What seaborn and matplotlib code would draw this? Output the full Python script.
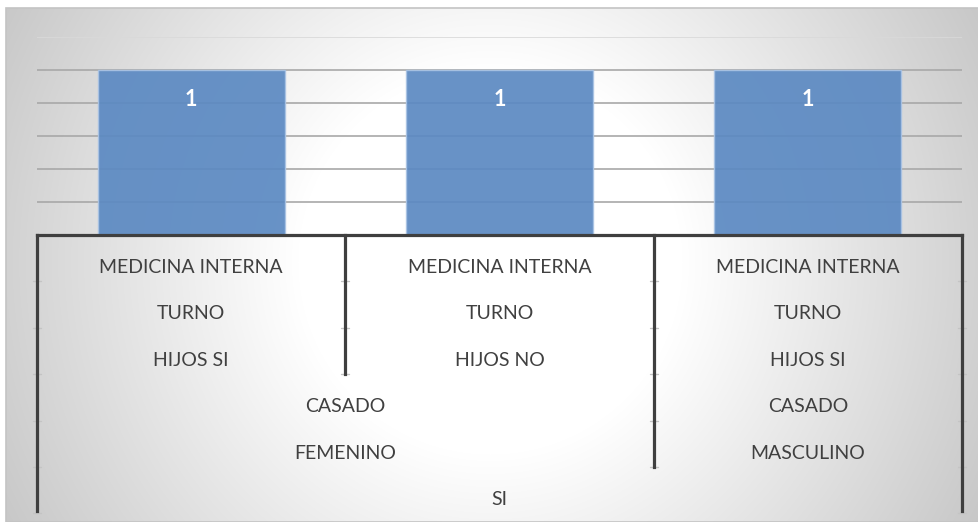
import numpy as np
import pandas as pd
import matplotlib
matplotlib.use("Agg")
import matplotlib.pyplot as plt
from matplotlib.patches import Rectangle
import seaborn as sns

# Category levels, innermost (closest to the bars) first
servicio = ["MEDICINA INTERNA", "MEDICINA INTERNA", "MEDICINA INTERNA"]
turno = ["TURNO", "TURNO", "TURNO"]
hijos = ["HIJOS SI", "HIJOS NO", "HIJOS SI"]
estado_civil = ["CASADO", "CASADO", "CASADO"]
sexo = ["FEMENINO", "FEMENINO", "MASCULINO"]
grupo = ["SI", "SI", "SI"]
cuenta = [1, 1, 1]

levels = [servicio, turno, hijos, estado_civil, sexo, grupo]
n = len(cuenta)
keys = [" | ".join(lv[i] for lv in reversed(levels)) for i in range(n)]
df = pd.DataFrame({"clave": keys, "cuenta": cuenta})

sns.set_style("white")
plt.rcParams["font.family"] = ["Lato", "DejaVu Sans"]

W, H = 979, 522
fig = plt.figure(figsize=(W / 100, H / 100), dpi=100)
fig.patch.set_facecolor("white")

def fx(px):
    return px / W

def fy(py):
    return 1 - py / H

# Chart area with a radial grey-to-white fill
left, top, right, bottom = 6, 8, 979, 522
bg = fig.add_axes([fx(left), fy(bottom), fx(right - left), fy(top) - fy(bottom)])
yy, xx = np.mgrid[0:bottom - top, 0:right - left]
cx, cy = 490 - left, 262 - top
d = np.hypot(xx - cx, yy - cy)
shade = np.clip(255 - 0.154 * np.clip(d - 192, 0, None), 0, 255) / 255
bg.imshow(np.dstack([shade] * 3), aspect="auto", interpolation="bilinear")
bg.set_axis_off()
bg.add_patch(Rectangle((0, 0), 1, 1, transform=bg.transAxes, fill=False,
                       edgecolor="#c4c4c4", linewidth=1.2, clip_on=False))

# Plot area
pl, pr, pt, pb = 37, 962, 37, 235
ax = fig.add_axes([fx(pl), fy(pb), fx(pr - pl), fy(pt) - fy(pb)])
ax.set_facecolor("none")
ax.set_ylim(0, 1.2)

grid_vals = [0.2, 0.4, 0.6, 0.8, 1.0]
for g in grid_vals:
    ax.axhline(g, color="#a8a8a8", linewidth=1.2, zorder=0)
ax.axhline(1.2, color="#d9d9d9", linewidth=1.2, zorder=0)

sns.barplot(data=df, x="clave", y="cuenta", order=keys, color="#5b89c2",
            width=0.607, alpha=0.92, edgecolor="#a9c3e4", linewidth=1.0,
            saturation=1, ax=ax, zorder=2)
ax.set_xlim(-0.5, n - 0.5)
ax.bar_label(ax.containers[0], labels=[f"{v:g}" for v in cuenta],
             padding=-28.5, color="white", fontsize=15.5, fontweight="bold")
ax.set_xlabel("")
ax.set_ylabel("")
ax.set_xticks([])
ax.set_yticks([])
for s in ax.spines.values():
    s.set_visible(False)

# Multi-level category axis
row_h = 46.4
nrows = len(levels)
ab = pb + row_h * nrows
lx = fig.add_axes([fx(pl), fy(ab), fx(pr - pl), fy(pb) - fy(ab)])
lx.set_facecolor("none")
lx.set_xlim(-0.5, n - 0.5)
lx.set_ylim(nrows, 0)
lx.set_axis_off()
line_kw = dict(color="#3f3f3f", linewidth=2.3, solid_capstyle="projecting", clip_on=False)
tick_kw = dict(color="#c4c4c4", linewidth=1.0, clip_on=False, zorder=1)
tick_dx = 4 / (pr - pl) * n

def path(i, k):
    return tuple(lv[i] for lv in levels[k:])

def vline(xv, depth):
    lx.plot([xv, xv], [0, depth], zorder=2, **line_kw)
    for r in range(1, int(round(depth)) + 1):
        lx.plot([xv - tick_dx, xv + tick_dx], [r, r], **tick_kw)

lx.plot([-0.5, n - 0.5], [0, 0], zorder=2, **line_kw)
vline(-0.5, nrows - 0.05)
vline(n - 0.5, nrows - 0.05)

for i in range(n - 1):
    depth = max(k for k in range(nrows) if path(i, k) != path(i + 1, k))
    vline(i + 0.5, depth + 1)

for k, lv in enumerate(levels):
    start = 0
    for i in range(1, n + 1):
        if i == n or path(i, k) != path(start, k):
            xc = (start + i - 1) / 2
            lx.text(xc, k + 0.7, lv[start], ha="center", va="center",
                    fontsize=14, color="#404040")
            start = i

fig.savefig("out.png", dpi=100, facecolor="white")
